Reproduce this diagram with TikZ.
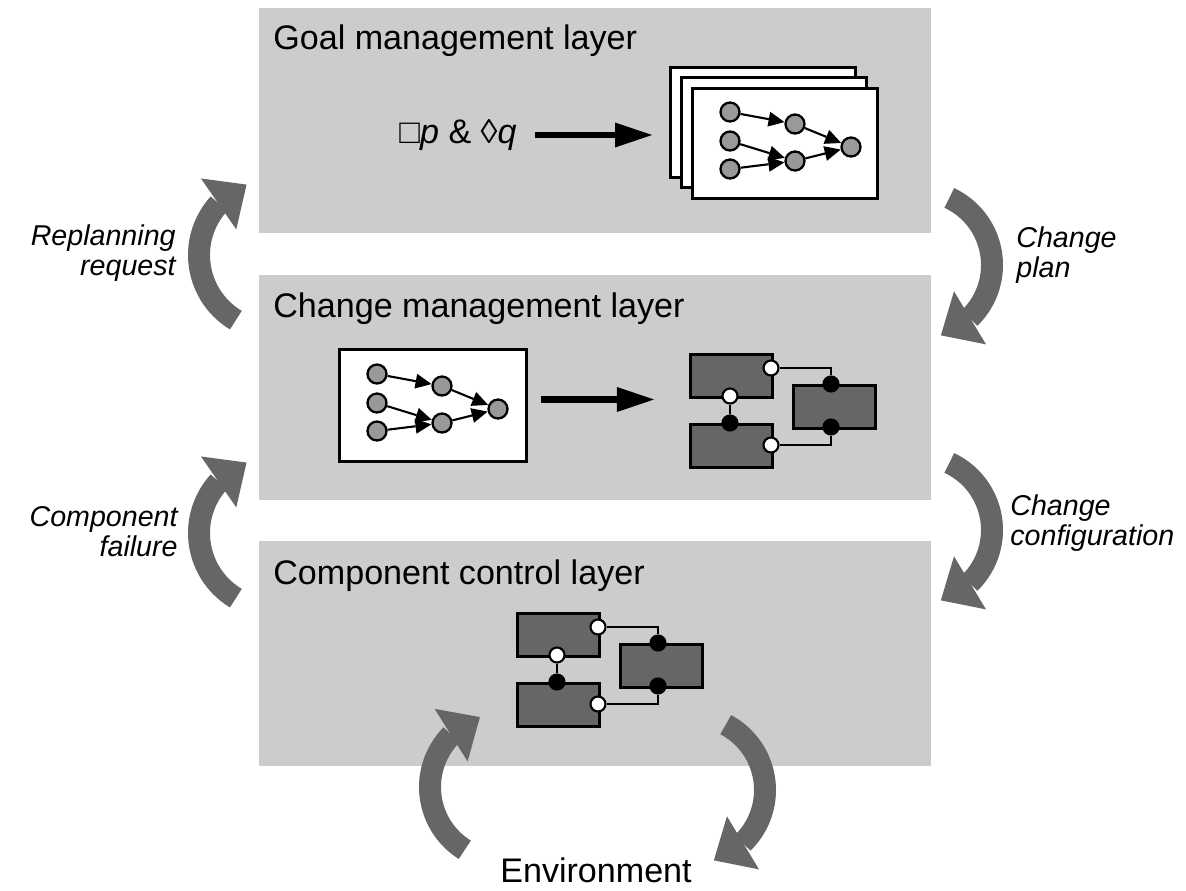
\documentclass[tikz,border=0pt]{standalone}
\usepackage{fontspec}
\setmainfont{Liberation Sans}
\usetikzlibrary{arrows.meta,bending,positioning}

\definecolor{layergray}{HTML}{CCCCCC}
\definecolor{loopgray}{HTML}{666666}
\definecolor{compgray}{HTML}{666666}
\definecolor{taskgray}{HTML}{999999}

\tikzset{
  layer/.style={fill=layergray, minimum width=13.44cm, minimum height=4.5cm, anchor=north west, inner sep=0pt},
  layertitle/.style={anchor=base west, inner sep=0pt, font=\fontsize{19.4}{23}\selectfont},
  looplabel/.style={inner sep=0pt, font=\fontsize{16.3}{17.1}\selectfont\itshape},
  feedback/.style={loopgray, line width=0.44cm, -{Triangle[length=0.68cm, width=1.24cm, line width=0pt]}},
  card/.style={draw, fill=white, line width=1.7pt, minimum width=3.7cm, minimum height=2.2cm, anchor=north west, inner sep=0pt},
  task/.style={circle, draw, fill=taskgray, line width=1.3pt, minimum size=0.38cm, inner sep=0pt},
  dep/.style={line width=1.2pt, -{Triangle[length=0.32cm, width=0.3cm, line width=0pt]}},
  comp/.style={draw, fill=compgray, line width=1.7pt, minimum width=1.64cm, minimum height=0.86cm, anchor=north west, inner sep=0pt},
  port/.style={circle, draw, line width=1.2pt, minimum size=0.3cm, inner sep=0pt},
  wire/.style={line width=1.6pt},
  bigarrow/.style={line width=3.8pt, -{Triangle[length=0.74cm, width=0.5cm, line width=0pt]}},
  % small task graph
  taskplan/.pic={
    \node[task] (-a1) at (0,0) {};
    \node[task] (-a2) at (0,29) {};
    \node[task] (-a3) at (0,57) {};
    \node[task] (-b1) at (65,12) {};
    \node[task] (-b2) at (65,49) {};
    \node[task] (-c) at (121,35) {};
    \draw[dep] (-a1) -- (-b1);
    \draw[dep] (-a2) -- (-b2);
    \draw[dep] (-a3) -- (-b2);
    \draw[dep] (-b1) -- (-c);
    \draw[dep] (-b2) -- (-c);
  },
  % three connected components
  compconfig/.pic={
    \node[comp] (-tl) at (0,0) {};
    \node[comp] (-bl) at (0,70) {};
    \node[comp] (-r) at (103,31) {};
    \node[port, fill=white] (-p1) at (82,15) {};
    \node[port, fill=white] (-p2) at (41,43) {};
    \node[port, fill=black] (-p3) at (41,70) {};
    \node[port, fill=white] (-p4) at (82,92) {};
    \node[port, fill=black] (-p5) at (142,31) {};
    \node[port, fill=black] (-p6) at (142,74) {};
    \draw[wire] (-p1) -| (-p5);
    \draw[wire] (-p4) -| (-p6);
    \draw[wire] (-p2) -- (-p3);
  },
}

\begin{document}
\begin{tikzpicture}[x=0.02cm,y=-0.02cm]
\useasboundingbox (0,0) rectangle (1186,890);

% layers
\node[layer] (goal) at (259,8) {};
\node[layer] (change) at (259,275) {};
\node[layer] (control) at (259,541) {};
\node[layertitle] (goaltitle) at ([xshift=0.28cm,yshift=-0.84cm]goal.north west) {Goal management layer};
\node[layertitle] (changetitle) at ([xshift=0.28cm,yshift=-0.84cm]change.north west) {Change management layer};
\node[layertitle] (controltitle) at ([xshift=0.28cm,yshift=-0.86cm]control.north west) {Component control layer};

% goal layer
\node[inner sep=0pt, font=\fontsize{19.4}{23}\selectfont] (goalspec) at (458,135) {□\textit{p} \& ◊\textit{q}};
\node[card] (card1) at (669,66) {};
\node[card] (card2) at (680,76) {};
\node[card] (card3) at (691,87) {};
\pic (plana) at (730,112) {taskplan};
\draw[bigarrow] ([xshift=0.36cm]goalspec.east) -- ([xshift=-0.34cm]card1.west |- goalspec);

% change layer
\node[card, minimum width=3.74cm, minimum height=2.24cm] (planbox) at (338,348) {};
\pic (planb) at (377,374) {taskplan};
\pic (cfga) at (689,353) {compconfig};
\coordinate (handover) at ([xshift=0.26cm,yshift=0.12cm]planbox.east);
\draw[bigarrow] (handover) -- ++(113,0);

% control layer
\pic (cfgb) at (516,612) {compconfig};

% loops
\coordinate (replan) at (275,255);
\coordinate (newplan) at (918,265);
\coordinate (failure) at (275,533);
\coordinate (newconfig) at (918,530);
\coordinate (sense) at (504,787);
\coordinate (act) at (691,790);
\draw[feedback] (replan) ++(239:1.52cm) arc[start angle=239, end angle=112, radius=1.52cm];
\draw[feedback] (newplan) ++(65:1.48cm) arc[start angle=65, end angle=-72, radius=1.48cm];
\draw[feedback] (failure) ++(239:1.52cm) arc[start angle=239, end angle=112, radius=1.52cm];
\draw[feedback] (newconfig) ++(65:1.48cm) arc[start angle=65, end angle=-72, radius=1.48cm];
\draw[feedback] (sense) ++(238:1.48cm) arc[start angle=238, end angle=109, radius=1.48cm];
\draw[feedback] (act) ++(62:1.48cm) arc[start angle=62, end angle=-72, radius=1.48cm];

% labels
\node[looplabel, align=right, anchor=east] (replanlbl) at (176,253) {Replanning\\request};
\node[looplabel, align=left, anchor=west] (planlbl) at (1016,255) {Change\\plan};
\node[looplabel, align=right, anchor=east] (faillbl) at (178,532) {Component\\failure};
\node[looplabel, align=left, anchor=west] (configlbl) at (1010,523) {Change\\configuration};
\node[inner sep=0pt, font=\fontsize{19.4}{23}\selectfont] (env) at (596,870) {Environment};
\end{tikzpicture}
\end{document}
